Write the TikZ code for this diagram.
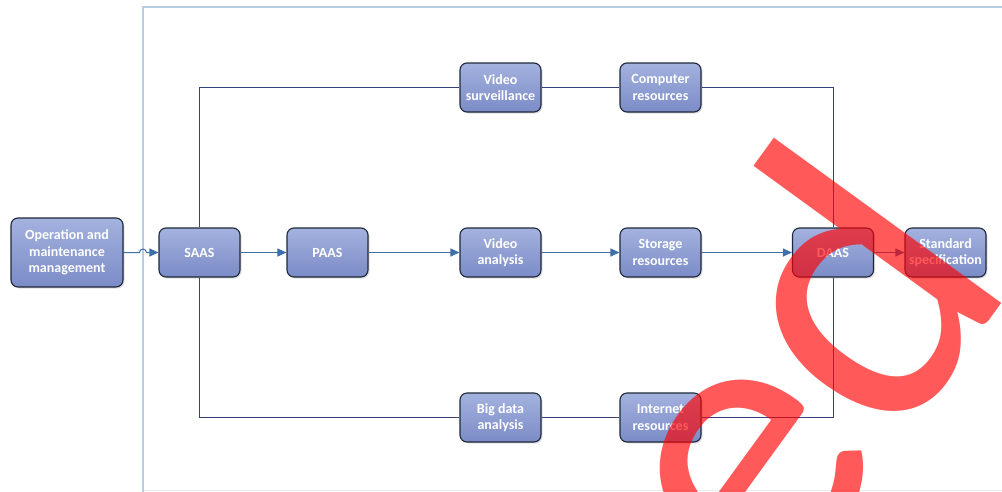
\documentclass[tikz,border=0pt]{standalone}
\usepackage{fontspec}
\setmainfont{Carlito}
\newfontfamily\wmfont{Carlito}
\usetikzlibrary{arrows.meta,shadows,calc}
\definecolor{boxtop}{HTML}{A4B2DF}
\definecolor{boxbot}{HTML}{7B8BC6}
\definecolor{boxline}{HTML}{1F2838}
\definecolor{loopline}{HTML}{34437C}
\definecolor{arrline}{HTML}{3E6FA8}
\definecolor{framec}{HTML}{B7CDE3}
\definecolor{framebot}{HTML}{E6ECF2}
\begin{document}
\begin{tikzpicture}[x=1pt,y=-1pt,
  box/.style={draw=boxline, line width=1.1pt, rounded corners=7pt,
    top color=boxtop, bottom color=boxbot,
    minimum width=81pt, minimum height=49pt, inner sep=2pt,
    align=center, text=white,
    font=\fontsize{14}{16.5}\selectfont\bfseries,
    drop shadow={shadow xshift=1.5pt, shadow yshift=-1.5pt, opacity=0.25}},
  loop/.style={draw=loopline, line width=1pt},
  arr/.style={draw=arrline, line width=1pt, -{Triangle[length=9pt,width=8pt]}},
  wmark/.style={text=red, opacity=0.65, rotate=54, anchor=base east, inner sep=0pt,
    font=\wmfont\fontsize{405}{405}\selectfont}]
\useasboundingbox (0,0) rectangle (1002,491);
\clip (0,0) rectangle (1002,491);
% frame
\draw[framebot, line width=1pt] (143,490) -- (1010,490);
\draw[framec, line width=1.3pt] (143,495) -- (143,7) -- (1010,7);
% nodes
\node[box, minimum width=112pt, minimum height=69pt] (om) at (67,252.5) {Operation and\\maintenance\\management};
\node[box] (saas) at (199.5,252.5) {SAAS};
\node[box] (paas) at (327.5,252.5) {PAAS};
\node[box] (va) at (500.5,252.5) {Video\\analysis};
\node[box] (sr) at (660.5,252.5) {Storage\\resources};
\node[box] (daas) at (833,252.5) {DAAS};
\node[box] (ss) at (945.5,252.5) {Standard\\specification};
\node[box] (vs) at (500.5,87.5) {Video\\surveillance};
\node[box] (cr) at (660.5,87.5) {Computer\\resources};
\node[box] (bd) at (500.5,417.5) {Big data\\analysis};
\node[box] (ir) at (660.5,417.5) {Internet\\resources};
% loops
\draw[loop] (saas.north) -- (saas.north |- vs.west) -- (vs.west);
\draw[loop] (vs.east) -- (cr.west);
\draw[loop] (cr.east) -- (daas.north |- cr.east) -- (daas.north);
\draw[loop] (saas.south) -- (saas.south |- bd.west) -- (bd.west);
\draw[loop] (bd.east) -- (ir.west);
\draw[loop] (ir.east) -- (daas.south |- ir.east) -- (daas.south);
% arrows
\draw[arr] (om.east) -- (139.5,252.5) arc[start angle=180, end angle=360, radius=3.5] -- (saas.west);
\draw[arr] (saas.east) -- (paas.west);
\draw[arr] (paas.east) -- (va.west);
\draw[arr] (va.east) -- (sr.west);
\draw[arr] (sr.east) -- (daas.west);
\draw[arr] (daas.east) -- (ss.west);
% watermark
\node[wmark] (wm) at (1019,280) {ed};
\end{tikzpicture}
\end{document}
